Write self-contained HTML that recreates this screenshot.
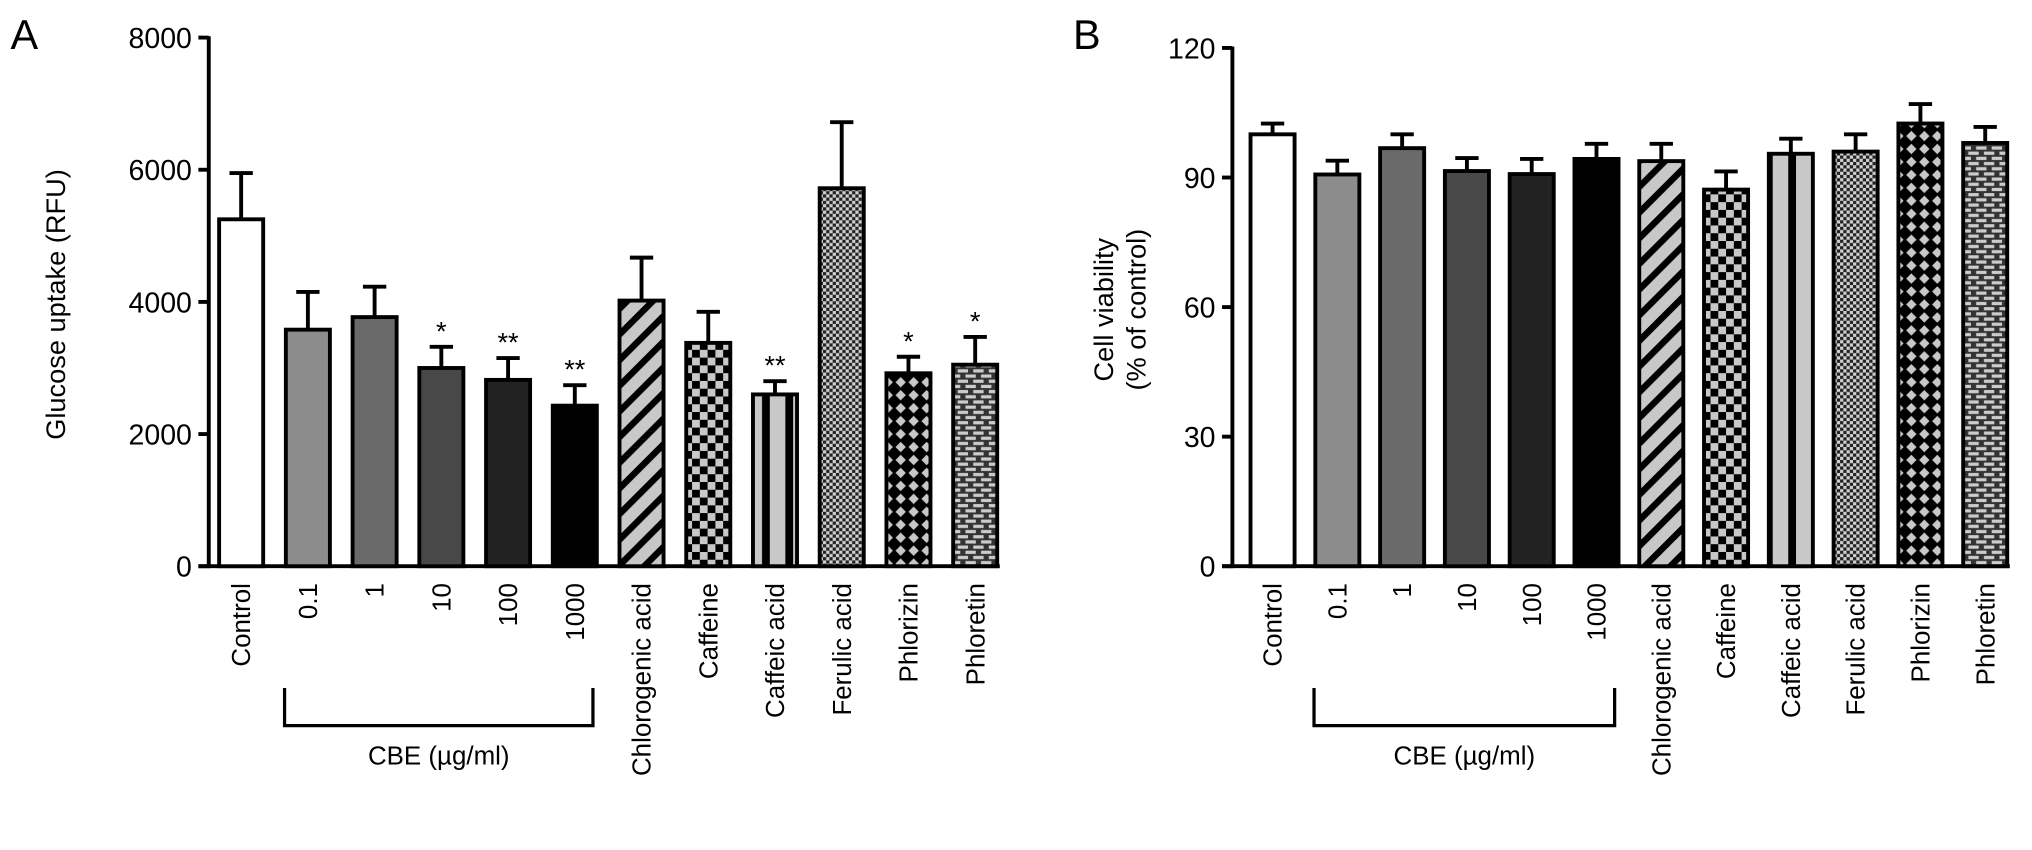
<!DOCTYPE html>
<html><head><meta charset="utf-8">
<style>
html,body{margin:0;padding:0;background:#fff;}
svg{display:block;font-family:"Liberation Sans",Arial,sans-serif;}
</style></head>
<body>
<svg id="chart" width="2032" height="850" viewBox="0 0 1568 656" xmlns="http://www.w3.org/2000/svg">
<defs>
  <pattern id="p-diag" width="14" height="14" patternUnits="userSpaceOnUse" patternTransform="rotate(45)">
    <rect width="14" height="14" fill="#c8c8c8"/><rect width="5" height="14" fill="#000"/>
  </pattern>
  <pattern id="p-check" width="12" height="12" patternUnits="userSpaceOnUse">
    <rect width="12" height="12" fill="#c8c8c8"/><rect width="6" height="6" fill="#000"/><rect x="6" y="6" width="6" height="6" fill="#000"/>
  </pattern>
  <pattern id="p-vstripe" width="18" height="10" patternUnits="userSpaceOnUse">
    <rect width="18" height="10" fill="#c8c8c8"/><rect x="12" width="6" height="10" fill="#000"/>
  </pattern>
  <pattern id="p-fine" width="5" height="5" patternUnits="userSpaceOnUse">
    <rect width="5" height="5" fill="#d0d0d0"/><rect width="2.5" height="2.5" fill="#222"/><rect x="2.5" y="2.5" width="2.5" height="2.5" fill="#222"/>
  </pattern>
  <pattern id="p-diamond" width="10" height="10" patternUnits="userSpaceOnUse">
    <rect width="10" height="10" fill="#000"/><path d="M5 1 L9 5 L5 9 L1 5Z" fill="#c8c8c8"/>
  </pattern>
  <pattern id="p-brick" width="12" height="8" patternUnits="userSpaceOnUse">
    <rect width="12" height="8" fill="#333"/><rect x="1" y="1" width="8" height="2.5" fill="#ccc"/><rect x="-5" y="5" width="8" height="2.5" fill="#ccc"/><rect x="7" y="5" width="8" height="2.5" fill="#ccc"/>
  </pattern>
</defs>
<g id="A"></g>
<g id="B"></g>
</svg>
<script>
const categories = ["Control","0.1","1","10","100","1000","Chlorogenic acid","Caffeine","Caffeic acid","Ferulic acid","Phlorizin","Phloretin"];
const fills = ["#fff","#8c8c8c","#6a6a6a","#484848","#222","#000","url(#p-diag)","url(#p-check)","url(#p-vstripe)","url(#p-fine)","url(#p-diamond)","url(#p-brick)"];
const uptakeValues = [5250,3580,3770,3000,2820,2430,4020,3380,2600,5720,2920,3050];
const uptakeErrors = [700,570,460,320,330,310,650,470,200,1000,250,420];
const uptakeStars = ["","","","*","**","**","","","**","","*","*"];
const uptakeTicks = [0,2000,4000,6000,8000];
const viabilityValues = [100,90.7,96.8,91.5,90.8,94.3,93.8,87.2,95.5,96,102.5,98];
const viabilityErrors = [2.5,3.2,3.2,3,3.5,3.5,4,4.2,3.5,4,4.5,3.7];
const viabilityTicks = [0,30,60,90,120];

const NS="http://www.w3.org/2000/svg";
function mk(parent,tag,attrs,text){const e=document.createElementNS(NS,tag);for(const k in attrs)e.setAttribute(k,attrs[k]);if(text!==undefined)e.textContent=text;parent.appendChild(e);return e;}

function panel(g,o){
  const y=v=>o.y0-(v/o.max)*(o.y0-o.yTop);
  const x=i=>o.x0+o.step*i;
  const bw=34;
  let ax=mk(g,'line',{x1:o.ax,y1:y(o.max)-1,x2:o.ax,y2:o.y0+1.5,stroke:'#000','stroke-width':3});
  
  
  let xa=mk(g,'line',{x1:o.ax-8,y1:o.y0,x2:x(11)+bw/2+2,y2:o.y0,stroke:'#000','stroke-width':3});
  
  
  o.ticks.forEach(t=>{
    let l=mk(g,'line',{x1:o.ax-8,y1:y(t),x2:o.ax,y2:y(t),stroke:'#000','stroke-width':3});
    
    
    let tx=mk(g,'text',{x:o.ax-13,y:y(t)+8,'text-anchor':'end','font-size':22},String(t));
    
    
  });
  o.vals.forEach((v,i)=>{
    const cx=x(i);
    const top=y(v+o.errs[i]);
    let e=mk(g,'path',{d:`M${cx} ${y(v)} V${top} M${cx-9} ${top} H${cx+9}`,stroke:'#000','stroke-width':3,fill:'none'});
    
    
    let r=mk(g,'rect',{x:cx-bw/2,y:y(v),width:bw,height:o.y0-y(v),fill:fills[i],stroke:'#000','stroke-width':3});
    
    
    if(o.stars&&o.stars[i]){
      let s=mk(g,'text',{x:cx,y:top-5,'text-anchor':'middle','font-size':21},o.stars[i]);
      
      
    }
    let lb=mk(g,'text',{x:0,y:0,'text-anchor':'end','font-size':20,transform:`translate(${cx+7},${o.y0+13}) rotate(-90)`},categories[i]);
    
    
  });
  const bx1=x(1)-18,bx2=x(5)+14;
  let br=mk(g,'path',{d:`M${bx1} ${o.y0+94} V${o.y0+123} H${bx2} V${o.y0+94}`,stroke:'#000','stroke-width':2.5,fill:'none'});
  
  
  let bt=mk(g,'text',{x:(bx1+bx2)/2,y:o.y0+153,'text-anchor':'middle','font-size':20},'CBE (\u00b5g/ml)');
  
  
  let pl=mk(g,'text',{x:o.plx,y:38,'font-size':32},o.pl);
  
  
  o.title.forEach((t,k)=>{
    const tx=o.tx+k*25, ty=(o.y0+y(o.max))/2+2;
    let tt=mk(g,'text',{x:0,y:0,'text-anchor':'middle','font-size':21,transform:`translate(${tx},${ty}) rotate(-90)`},t);
    
    
  });
}
panel(document.getElementById('A'),{ax:161,y0:437,yTop:29,max:8000,x0:186,step:51.5,vals:uptakeValues,errs:uptakeErrors,stars:uptakeStars,ticks:uptakeTicks,pl:'A',plx:8,title:['Glucose uptake (RFU)'],tx:50});
panel(document.getElementById('B'),{ax:951,y0:437,yTop:37,max:120,x0:982,step:50,vals:viabilityValues,errs:viabilityErrors,stars:null,ticks:viabilityTicks,pl:'B',plx:828,title:['Cell viability','(% of control)'],tx:859});
</script>
</body></html>
